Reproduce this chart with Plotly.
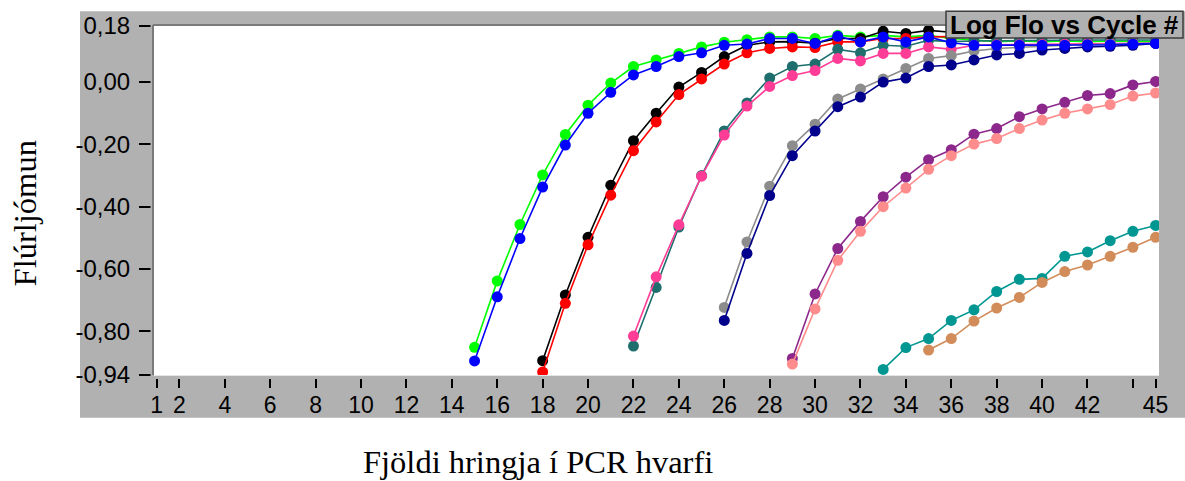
import plotly.graph_objects as go

# ---------------- data ----------------
cycles = list(range(1, 46))

green_start = 15
green = [-0.851, -0.638, -0.457, -0.298, -0.168, -0.074, -0.003, 0.050, 0.071, 0.092,
         0.113, 0.128, 0.136, 0.145, 0.145, 0.140, 0.150, 0.145, 0.150, 0.145,
         0.150, 0.140, 0.135, 0.130, 0.132, 0.130, 0.132, 0.130, 0.132, 0.130, 0.130]

blue_start = 15
blue = [-0.895, -0.689, -0.502, -0.337, -0.202, -0.100, -0.033, 0.023, 0.050, 0.082,
        0.094, 0.118, 0.122, 0.140, 0.140, 0.124, 0.147, 0.129, 0.145, 0.129,
        0.145, 0.126, 0.118, 0.118, 0.118, 0.118, 0.118, 0.120, 0.120, 0.122, 0.124]

black_start = 18
black = [-0.894, -0.683, -0.498, -0.331, -0.188, -0.100, -0.016, 0.031, 0.082, 0.118,
         0.129, 0.130, 0.125, 0.140, 0.140, 0.163, 0.156, 0.166, 0.160, 0.163,
         0.165, 0.163, 0.165, 0.166, 0.165, 0.166, 0.165, 0.165]

red_start = 18
red = [-0.930, -0.710, -0.522, -0.363, -0.220, -0.128, -0.040, 0.010, 0.058, 0.094,
       0.108, 0.113, 0.111, 0.129, 0.129, 0.140, 0.140, 0.145, 0.145, 0.147,
       0.148, 0.148, 0.150, 0.150, 0.150, 0.150, 0.150, 0.150]

darkteal_start = 22
darkteal = [-0.847, -0.659, -0.465, -0.300, -0.157, -0.067, 0.013, 0.050, 0.058, 0.105,
            0.094, 0.118, 0.115, 0.134, 0.130, 0.132, 0.133, 0.133, 0.134, 0.134,
            0.135, 0.135, 0.135, 0.135]

pink_start = 22
pink = [-0.815, -0.625, -0.458, -0.302, -0.170, -0.077, -0.014, 0.021, 0.037, 0.076,
        0.068, 0.092, 0.092, 0.113, 0.105, 0.118, 0.120, 0.120, 0.121, 0.122,
        0.123, 0.124, 0.125, 0.125]

gray_start = 26
gray = [-0.723, -0.513, -0.334, -0.204, -0.135, -0.054, -0.022, 0.010, 0.044, 0.076,
        0.085, 0.100, 0.108, 0.112, 0.115, 0.118, 0.120, 0.122, 0.124, 0.125]

navy_start = 26
navy = [-0.765, -0.550, -0.364, -0.236, -0.157, -0.079, -0.048, 0.000, 0.013, 0.050,
        0.055, 0.071, 0.087, 0.092, 0.103, 0.108, 0.113, 0.115, 0.118, 0.124]

purple_start = 29
purple = [-0.887, -0.680, -0.534, -0.447, -0.368, -0.305, -0.249, -0.217, -0.167, -0.149,
          -0.111, -0.086, -0.065, -0.043, -0.037, -0.009, 0.002]

salmon_start = 29
salmon = [-0.905, -0.728, -0.572, -0.479, -0.400, -0.340, -0.280, -0.236, -0.199, -0.181,
          -0.149, -0.122, -0.100, -0.086, -0.072, -0.045, -0.035]

teal_start = 33
teal = [-0.922, -0.852, -0.823, -0.765, -0.731, -0.672, -0.633, -0.630, -0.559, -0.545,
        -0.509, -0.479, -0.460]

tan_start = 35
tan = [-0.860, -0.823, -0.767, -0.725, -0.691, -0.643, -0.608, -0.587, -0.559, -0.530,
       -0.498]

x_tickvals = [1, 2, 4, 6, 8, 10, 12, 14, 16, 18, 20, 22, 24, 26, 28, 30, 32, 34, 36, 38,
              40, 42, 44, 45]
x_ticktext = ["1", "2", "4", "6", "8", "10", "12", "14", "16", "18", "20", "22", "24",
              "26", "28", "30", "32", "34", "36", "38", "40", "42", "", "45"]
y_tickvals = [0.18, 0.0, -0.2, -0.4, -0.6, -0.8, -0.94]
y_ticktext = ["0,18", "0,00", "-0,20", "-0,40", "-0,60", "-0,80", "-0,94"]

title_text = "Log Flo vs Cycle #"
x_title = "Fjöldi hringja í PCR hvarfi"
y_title = "Flúrljómun"

# ---------------- figure ----------------
W, H = 1185, 481
L, R, T, B = 154, 1159, 23, 375  # plot area in pixels


def px(x):
    return (x - L) / (R - L)


def py(y):
    return (B - y) / (B - T)


series = [
    (green, green_start, "#00ff00"),
    (black, black_start, "#000000"),
    (red, red_start, "#ff0000"),
    (darkteal, darkteal_start, "#1e6e6e"),
    (pink, pink_start, "#ff3c96"),
    (gray, gray_start, "#8c8c8c"),
    (navy, navy_start, "#00008c"),
    (purple, purple_start, "#8c288c"),
    (salmon, salmon_start, "#ff8c8c"),
    (teal, teal_start, "#009691"),
    (tan, tan_start, "#d28c5a"),
    (blue, blue_start, "#0000ff"),
]

fig = go.Figure()
for vals, start, col in series:
    xs = cycles[start - 1:start - 1 + len(vals)]
    fig.add_trace(go.Scatter(
        x=xs, y=vals, mode="lines+markers",
        line=dict(color=col, width=1.6),
        marker=dict(color=col, size=11, line=dict(width=0)),
        showlegend=False, hoverinfo="skip",
    ))

panel = "#b1b1b1"
narrow = "Liberation Sans Narrow, Arial Narrow, Liberation Sans, Arial"
ytick_font = dict(family=narrow, size=24, color="#000000")
xtick_font = dict(family=narrow, size=23, color="#000000")

shapes = [
    # gray panel
    dict(type="rect", xref="paper", yref="paper", x0=px(80), x1=px(1185), y0=py(418), y1=py(8),
         fillcolor=panel, line=dict(width=0), layer="below"),
    # white plotting area
    dict(type="rect", xref="paper", yref="paper", x0=0, x1=1, y0=0, y1=1,
         fillcolor="#ffffff", line=dict(width=0), layer="below"),
    # strips to separate tick marks from the plot edge
    dict(type="rect", xref="paper", yref="paper", x0=px(154), x1=px(1159), y0=py(379), y1=py(375.5),
         fillcolor=panel, line=dict(width=0), layer="above"),
    dict(type="rect", xref="paper", yref="paper", x0=px(150.5), x1=px(153.5), y0=py(376), y1=py(22),
         fillcolor=panel, line=dict(width=0), layer="above"),
    # inset border of plot area
    dict(type="line", xref="paper", yref="paper", x0=px(153), x1=px(1159), y0=py(22), y1=py(22),
         line=dict(color="#7a7a7a", width=2), layer="above"),
    dict(type="line", xref="paper", yref="paper", x0=px(153), x1=px(153), y0=py(22), y1=py(375),
         line=dict(color="#7a7a7a", width=2), layer="above"),
    dict(type="line", xref="paper", yref="paper", x0=px(154), x1=px(1159), y0=py(375.5), y1=py(375.5),
         line=dict(color="#e6e6e6", width=1), layer="above"),
    # title box
    dict(type="rect", xref="paper", yref="paper", x0=px(946), x1=px(1183), y0=py(35), y1=py(8),
         fillcolor=panel, line=dict(color="#3c3c3c", width=1.5), layer="above"),
]

annotations = [
    dict(text=title_text, xref="paper", yref="paper", x=px(1064), y=py(21.5),
         xanchor="center", yanchor="middle", showarrow=False,
         font=dict(family="Liberation Sans, Arial", size=26, color="#000000", weight="bold")),
    dict(text=x_title, xref="paper", yref="paper", x=px(538), y=py(463),
         xanchor="center", yanchor="middle", showarrow=False,
         font=dict(family="Liberation Serif, Times New Roman", size=32.5, color="#000000")),
    dict(text=y_title, xref="paper", yref="paper", x=px(25), y=py(212),
         xanchor="center", yanchor="middle", showarrow=False, textangle=-90,
         font=dict(family="Liberation Serif, Times New Roman", size=32.5, color="#000000")),
]

fig.update_layout(
    width=W, height=H,
    margin=dict(l=L, r=W - R, t=T, b=H - B, pad=0),
    paper_bgcolor="#ffffff", plot_bgcolor="#ffffff",
    shapes=shapes, annotations=annotations,
    xaxis=dict(range=[0.88, 45.15], tickvals=x_tickvals, ticktext=x_ticktext,
               ticks="outside", ticklen=12, tickwidth=2, tickcolor="#000000",
               showgrid=False, zeroline=False, showline=False,
               tickfont=xtick_font, ticklabelstandoff=-3, fixedrange=True),
    yaxis=dict(range=[-0.94, 0.18], tickvals=y_tickvals, ticktext=y_ticktext,
               ticks="outside", ticklen=14, tickwidth=2, tickcolor="#000000",
               showgrid=False, zeroline=False, showline=False,
               tickfont=ytick_font, ticklabelstandoff=4, fixedrange=True),
)

fig.write_html("out.html")
